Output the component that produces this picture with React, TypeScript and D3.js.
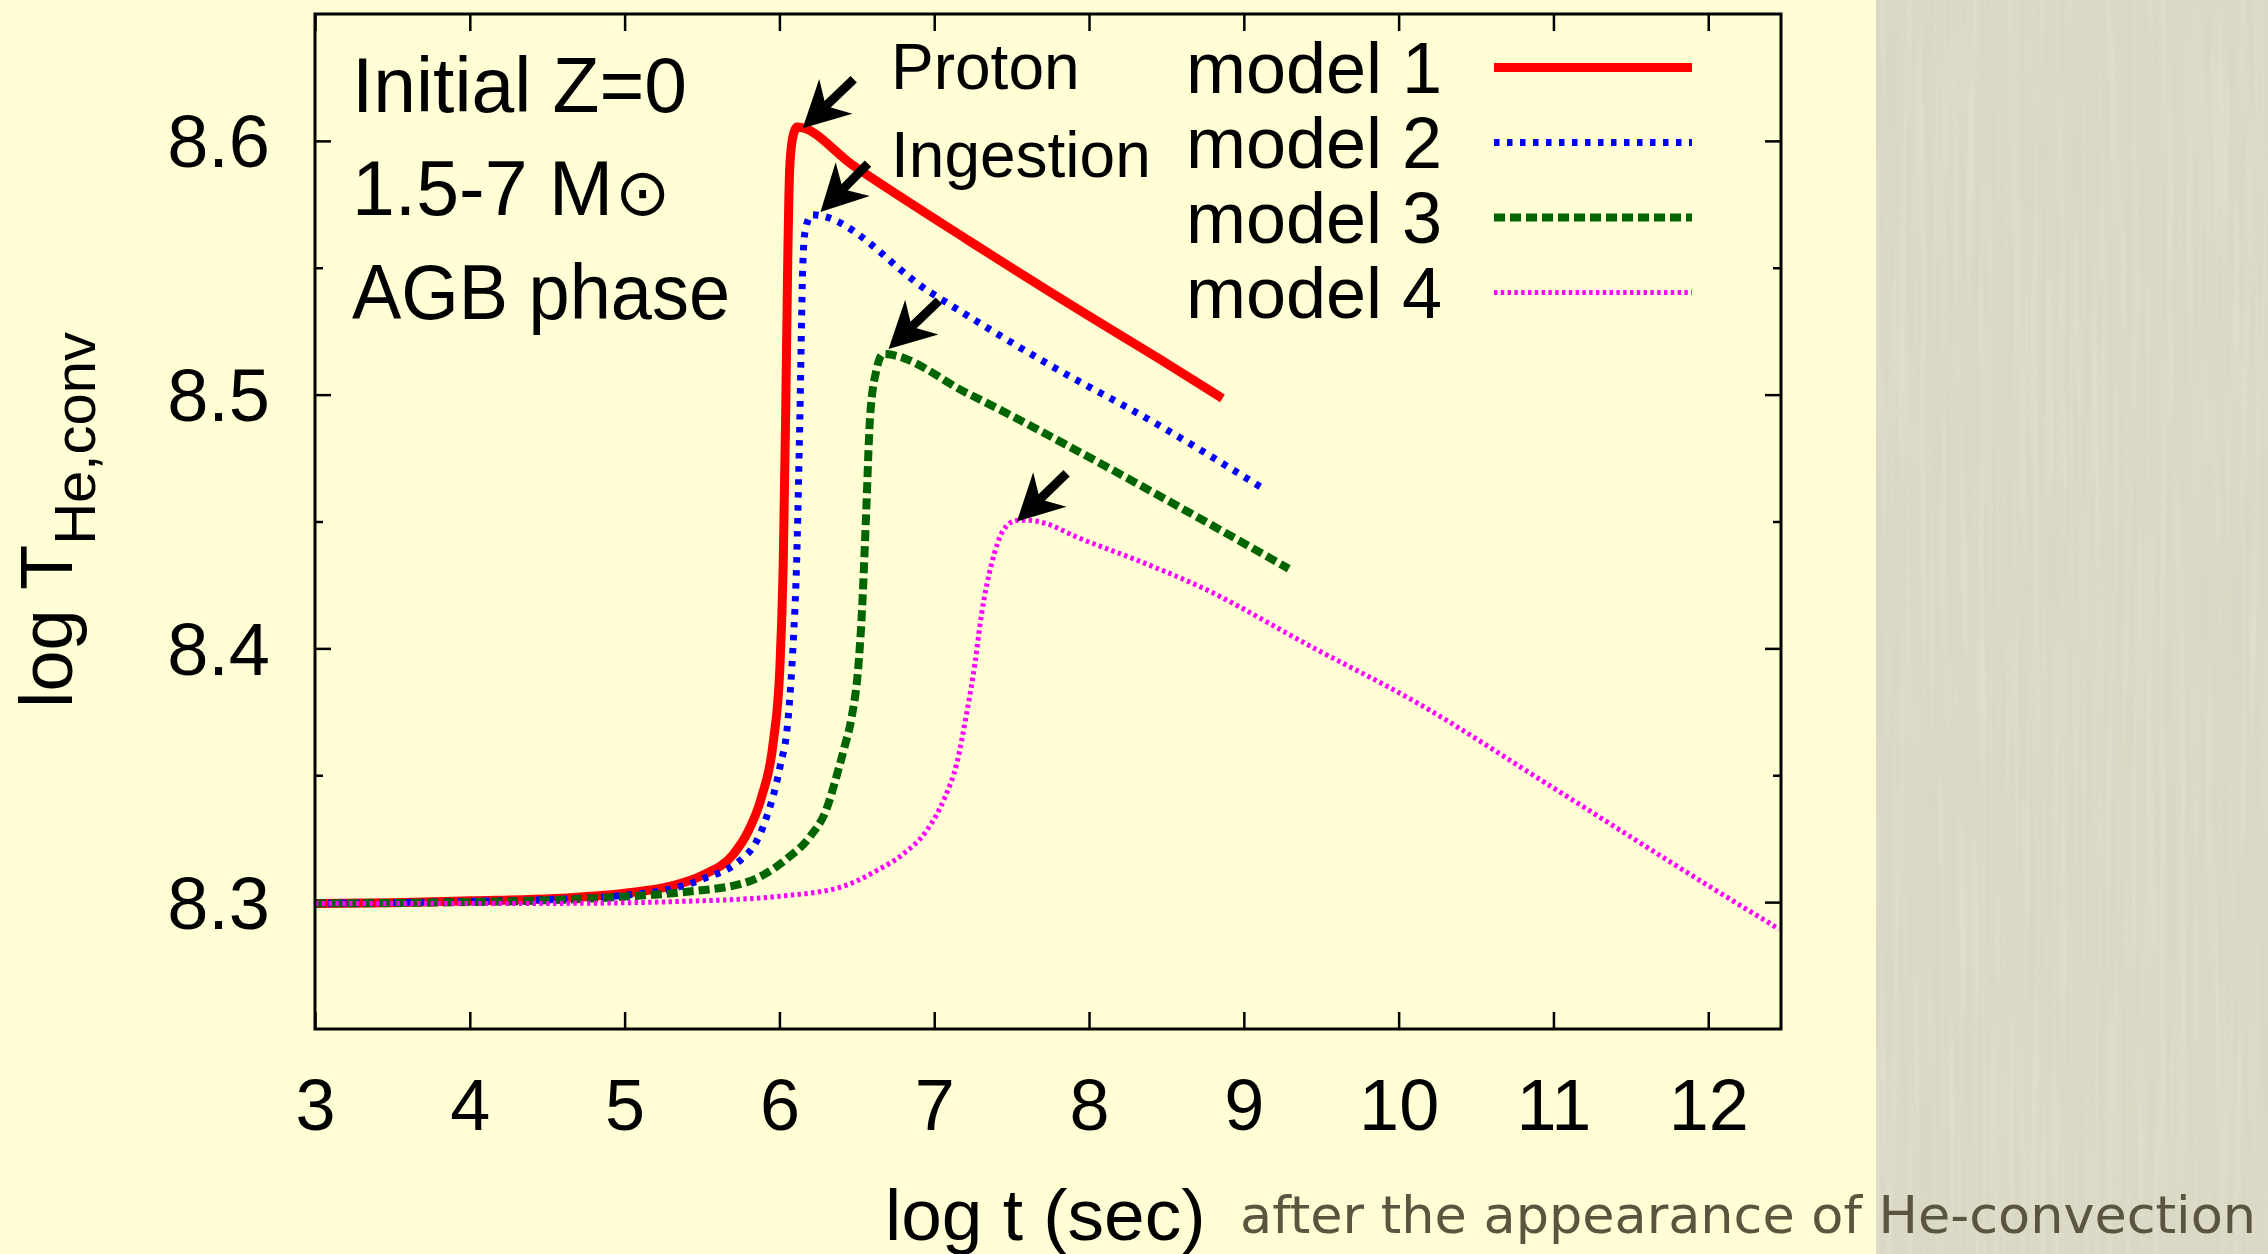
import React, { useRef, useEffect } from "react";
import * as d3 from "d3";

const W = 2268;
const H = 1254;

// axis ticks
const xTicks = [3, 4, 5, 6, 7, 8, 9, 10, 11, 12];
const yTicks = [8.3, 8.4, 8.5, 8.6];
const yMinorTicks = [8.35, 8.45, 8.55];

// series: [log t, log T]
const model1 = [
  [3, 8.2995], [3.5, 8.2998], [4.0, 8.3005], [4.55, 8.3014], [5.0, 8.3035],
  [5.29, 8.3062], [5.5, 8.3105], [5.704, 8.319], [5.796, 8.3276], [5.885, 8.3415],
  [5.96, 8.3629], [6.003, 8.3924], [6.024, 8.4316], [6.04, 8.4905], [6.053, 8.5494],
  [6.066, 8.5885], [6.085, 8.601], [6.115, 8.6055], [6.474, 8.5904], [7.218, 8.5609],
  [7.959, 8.5325], [8.452, 8.5142], [8.862, 8.4985],
];
const model2 = [
  [3, 8.2995], [4.0, 8.3003], [4.5, 8.301], [5.0, 8.3027], [5.3, 8.3052],
  [5.5, 8.309], [5.766, 8.3175], [5.83, 8.3217], [5.917, 8.3335], [6.003, 8.3531],
  [6.057, 8.3728], [6.089, 8.4022], [6.11, 8.4316], [6.132, 8.4905], [6.15, 8.549],
  [6.165, 8.564], [6.208, 8.5709], [6.97, 8.5405], [7.711, 8.5129], [8.452, 8.4879],
  [9.109, 8.4636],
];
const model3 = [
  [3, 8.2995], [4.0, 8.3], [4.96, 8.302], [5.374, 8.3039], [5.786, 8.3078],
  [6.046, 8.317], [6.2, 8.326], [6.3, 8.336], [6.38, 8.352], [6.42, 8.361],
  [6.466, 8.3727], [6.509, 8.3923], [6.531, 8.412], [6.559, 8.4512], [6.585, 8.4905],
  [6.628, 8.51], [6.67, 8.516], [7.218, 8.5004], [7.959, 8.4767], [8.701, 8.4517],
  [9.29, 8.4314],
];
const model4 = [
  [3, 8.2995], [4.55, 8.2995], [5.374, 8.3003], [6.033, 8.3025], [6.4, 8.306],
  [6.628, 8.3124], [6.8, 8.319], [6.951, 8.3282], [7.069, 8.3413], [7.145, 8.3545],
  [7.209, 8.3742], [7.263, 8.394], [7.306, 8.4136], [7.371, 8.4334], [7.446, 8.4465],
  [7.532, 8.4504], [7.6, 8.4505], [7.726, 8.4491], [7.92, 8.4439], [8.3, 8.435],
  [8.71, 8.4245], [9.459, 8.3999], [10.077, 8.38], [11.0, 8.345], [11.947, 8.3085],
  [12.457, 8.2894],
];

const seriesData = [model1, model2, model3, model4];
const seriesNames = ["model 1", "model 2", "model 3", "model 4"];
const seriesColors = ["#ff0000", "#0000ff", "#006400", "#ff00ff"];
const seriesDash = [null, "5.5 7.5", "11 5", "3.4 3.4"];
const seriesWidth = [9, 7, 8, 5];

// annotation arrows: [tail t, tail T, tip t, tip T]
const arrows = [
  [6.48, 8.6243, 6.15, 8.605],
  [6.572, 8.591, 6.265, 8.572],
  [7.03, 8.537, 6.705, 8.518],
  [7.855, 8.469, 7.534, 8.45],
];

const infoLines = ["Initial Z=0", "1.5-7 M", "AGB phase"];
const infoWidths = [335, null, 378];

const App = () => {
  const svgRef = useRef(null);

  useEffect(() => {
    const svg = d3.select(svgRef.current);
    svg.selectAll("*").remove();

    const margin = { top: 14, right: 487, bottom: 225, left: 315 };
    const x = d3.scaleLinear().domain([3, 12.47]).range([margin.left, W - margin.right]);
    const y = d3.scaleLinear().domain([8.25, 8.65]).range([H - margin.bottom, margin.top]);
    const font = "'Liberation Sans', Arial, sans-serif";

    // backgrounds
    const defs = svg.append("defs");
    const filter = defs.append("filter").attr("id", "paper").attr("x", 0).attr("y", 0).attr("width", "100%").attr("height", "100%");
    filter.append("feTurbulence").attr("type", "fractalNoise").attr("baseFrequency", "0.15 0.004").attr("numOctaves", 2).attr("seed", 4);
    filter.append("feColorMatrix").attr("type", "matrix").attr("values", "0 0 0 0 1  0 0 0 0 1  0 0 0 0 0.95  1.2 0 0 0 -0.45");
    defs.append("clipPath").attr("id", "plotClip").append("rect")
      .attr("x", margin.left).attr("y", margin.top)
      .attr("width", x.range()[1] - margin.left).attr("height", y.range()[0] - margin.top);

    svg.append("rect").attr("width", 1876).attr("height", H).attr("fill", "#fffed4");
    svg.append("rect").attr("x", 1876).attr("width", W - 1876).attr("height", H).attr("fill", "#dad8c4");
    svg.append("rect").attr("x", 1876).attr("width", W - 1876).attr("height", H).attr("filter", "url(#paper)").attr("opacity", 0.28);

    // axes (inward ticks)
    const styleAxis = (g) => {
      g.select(".domain").remove();
      g.selectAll(".tick line").attr("stroke", "#000").attr("stroke-width", 2.5);
    };
    svg.append("g").attr("transform", `translate(0,${y.range()[0]})`)
      .call(d3.axisBottom(x).tickValues(xTicks).tickSize(-17).tickPadding(50).tickFormat(d3.format("d")))
      .call(styleAxis)
      .selectAll("text").attr("font-family", font).attr("font-size", 72).attr("fill", "#000");
    svg.append("g").attr("transform", `translate(0,${margin.top})`)
      .call(d3.axisTop(x).tickValues(xTicks).tickSize(-17).tickFormat(() => ""))
      .call(styleAxis);
    svg.append("g").attr("transform", `translate(${margin.left},0)`)
      .call(d3.axisLeft(y).tickValues(yTicks).tickSize(-16).tickPadding(45).tickFormat(d3.format(".1f")))
      .call(styleAxis)
      .selectAll("text").attr("font-family", font).attr("font-size", 74).attr("fill", "#000").attr("dy", "0.35em");
    svg.append("g").attr("transform", `translate(${margin.left},0)`)
      .call(d3.axisLeft(y).tickValues(yMinorTicks).tickSize(-8).tickFormat(() => ""))
      .call(styleAxis);
    svg.append("g").attr("transform", `translate(${x.range()[1]},0)`)
      .call(d3.axisRight(y).tickValues(yTicks).tickSize(-16).tickFormat(() => ""))
      .call(styleAxis);
    svg.append("g").attr("transform", `translate(${x.range()[1]},0)`)
      .call(d3.axisRight(y).tickValues(yMinorTicks).tickSize(-8).tickFormat(() => ""))
      .call(styleAxis);

    // curves
    const line = d3.line().x((d) => x(d[0])).y((d) => y(d[1])).curve(d3.curveMonotoneX);
    const curves = svg.append("g").attr("clip-path", "url(#plotClip)");
    seriesData.forEach((data, i) => {
      curves.append("path")
        .attr("d", line(data))
        .attr("fill", "none")
        .attr("stroke", seriesColors[i])
        .attr("stroke-width", seriesWidth[i])
        .attr("stroke-dasharray", seriesDash[i])
        .attr("stroke-linejoin", "round");
    });

    // arrows
    const headLen = 46, headHalf = 24, notch = 32;
    arrows.forEach(([t0, v0, t1, v1]) => {
      const x0 = x(t0), y0 = y(v0), x1 = x(t1), y1 = y(v1);
      const len = Math.hypot(x1 - x0, y1 - y0);
      const ux = (x1 - x0) / len, uy = (y1 - y0) / len;
      const px = -uy, py = ux;
      const bx = x1 - ux * headLen, by = y1 - uy * headLen;
      const nx = x1 - ux * notch, ny = y1 - uy * notch;
      svg.append("line").attr("x1", x0).attr("y1", y0).attr("x2", nx).attr("y2", ny)
        .attr("stroke", "#000").attr("stroke-width", 9);
      svg.append("path")
        .attr("d", `M${x1},${y1}L${bx + px * headHalf},${by + py * headHalf}L${nx},${ny}L${bx - px * headHalf},${by - py * headHalf}Z`)
        .attr("fill", "#000");
    });

    // border
    svg.append("rect")
      .attr("x", margin.left).attr("y", margin.top)
      .attr("width", x.range()[1] - margin.left).attr("height", y.range()[0] - margin.top)
      .attr("fill", "none").attr("stroke", "#000").attr("stroke-width", 3);

    // legend
    seriesNames.forEach((name, i) => {
      const base = 92.5 + i * 75;
      svg.append("text").attr("x", 1186).attr("y", base)
        .attr("font-family", font).attr("font-size", 72).attr("fill", "#000").text(name);
      svg.append("line").attr("x1", 1494).attr("x2", 1692).attr("y1", base - 25).attr("y2", base - 25)
        .attr("stroke", seriesColors[i]).attr("stroke-width", seriesWidth[i])
        .attr("stroke-dasharray", seriesDash[i]);
    });

    // info text
    infoLines.forEach((t, i) => {
      const txt = svg.append("text").attr("x", 352).attr("y", 112 + i * 103.3)
        .attr("font-family", font).attr("font-size", 77).attr("fill", "#000").text(t);
      if (infoWidths[i]) {
        txt.attr("textLength", infoWidths[i]).attr("lengthAdjust", "spacingAndGlyphs");
      }
      if (i === 1) {
        txt.append("tspan").attr("dx", 2).attr("font-family", "'DejaVu Sans', sans-serif")
          .attr("font-size", 66).text("\u2299");
      }
    });
    svg.append("text").attr("x", 891).attr("y", 89).attr("font-family", font).attr("font-size", 64).attr("fill", "#000").text("Proton");
    svg.append("text").attr("x", 891).attr("y", 177).attr("font-family", font).attr("font-size", 64).attr("fill", "#000").text("Ingestion");

    // axis labels
    svg.append("text").attr("x", 885).attr("y", 1240).attr("font-family", font).attr("font-size", 73).attr("fill", "#000").text("log t (sec)");
    svg.append("text").attr("x", 1240).attr("y", 1233)
      .attr("font-family", "'DejaVu Sans', sans-serif").attr("font-size", 52).attr("fill", "#59553f")
      .attr("textLength", 1016).attr("lengthAdjust", "spacingAndGlyphs")
      .text("after the appearance of He-convection");
    const yl = svg.append("text").attr("transform", "translate(72,708) rotate(-90)")
      .attr("font-family", font).attr("font-size", 74).attr("fill", "#000");
    yl.append("tspan").text("log T");
    yl.append("tspan").attr("dy", 23).attr("font-size", 58).text("He,conv");
  }, []);

  return (
    <svg
      ref={svgRef}
      width={W}
      height={H}
      style={{ position: "absolute", left: 0, top: 0, display: "block" }}
    ></svg>
  );
};

export default App;
